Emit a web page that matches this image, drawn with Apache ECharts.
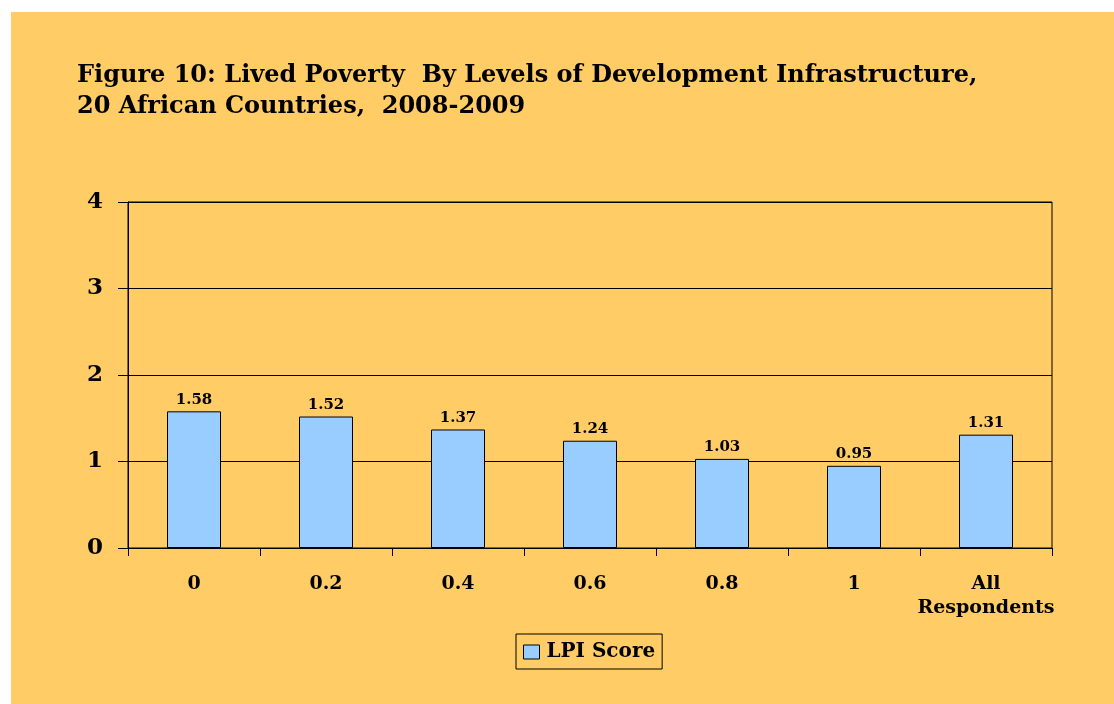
<!DOCTYPE html>
<html>
<head>
<meta charset="utf-8">
<script src="https://cdn.jsdelivr.net/npm/echarts@6/dist/echarts.min.js"></script>
<style>
html,body{margin:0;padding:0;background:#fff;}
#bg{position:absolute;left:11px;top:12px;width:1103px;height:692px;background:#FFCC66;}
#c{position:absolute;left:0;top:0;width:1114px;height:704px;}
</style>
</head>
<body>
<div id="bg"></div>
<div id="c"></div>
<script>
const categories = ['0', '0.2', '0.4', '0.6', '0.8', '1', 'All\nRespondents'];
const lpiScore = [1.58, 1.52, 1.37, 1.24, 1.03, 0.95, 1.31];
const seriesName = 'LPI Score';
const titleLines = ['Figure 10: Lived Poverty  By Levels of Development Infrastructure,', '20 African Countries,  2008-2009'];

const font = 'DejaVu Serif';
const chart = echarts.init(document.getElementById('c'));
chart.setOption({
  backgroundColor: 'transparent',
  animation: false,
  title: {
    text: titleLines.join('\n'),
    left: 77, top: 60, padding: 0,
    textStyle: { fontFamily: font, fontWeight: 'bold', fontSize: 24, lineHeight: 31, color: '#000' }
  },
  legend: {
    data: [seriesName],
    left: 516, top: 634,
    padding: [8, 7, 7, 7],
    borderColor: '#000', borderWidth: 1,
    icon: 'rect',
    itemWidth: 16, itemHeight: 14, itemGap: 6,
    itemStyle: { borderColor: '#000', borderWidth: 1 },
    textStyle: { fontFamily: font, fontWeight: 'bold', fontSize: 20, color: '#000', padding: [0, 0, 0, 2] }
  },
  grid: {
    left: 128, right: 62, top: 202, bottom: 156,
    show: true, borderColor: '#000', borderWidth: 1, backgroundColor: 'transparent'
  },
  xAxis: {
    type: 'category',
    data: categories,
    axisLine: { lineStyle: { color: '#000', width: 1 } },
    axisTick: { show: true, interval: 0, length: 8, lineStyle: { color: '#000' } },
    axisLabel: { interval: 0, fontFamily: font, fontWeight: 'bold', fontSize: 19, color: '#000', margin: 24, lineHeight: 24 }
  },
  yAxis: {
    type: 'value',
    min: 0, max: 4, interval: 1,
    axisLine: { show: true, lineStyle: { color: '#000' } },
    axisTick: { show: true, length: 10, lineStyle: { color: '#000' } },
    splitLine: { lineStyle: { color: '#000', width: 1 } },
    axisLabel: { fontFamily: font, fontWeight: 'bold', fontSize: 23, color: '#000', margin: 25 }
  },
  series: [{
    name: seriesName,
    type: 'bar',
    data: lpiScore,
    barWidth: 54,
    itemStyle: { color: '#99CCFF', borderColor: '#000', borderWidth: 1 },
    label: {
      show: true, position: 'top', distance: 4,
      fontFamily: font, fontWeight: 'bold', fontSize: 15, color: '#000',
      formatter: p => p.value.toFixed(2)
    }
  }]
});
</script>
</body>
</html>
